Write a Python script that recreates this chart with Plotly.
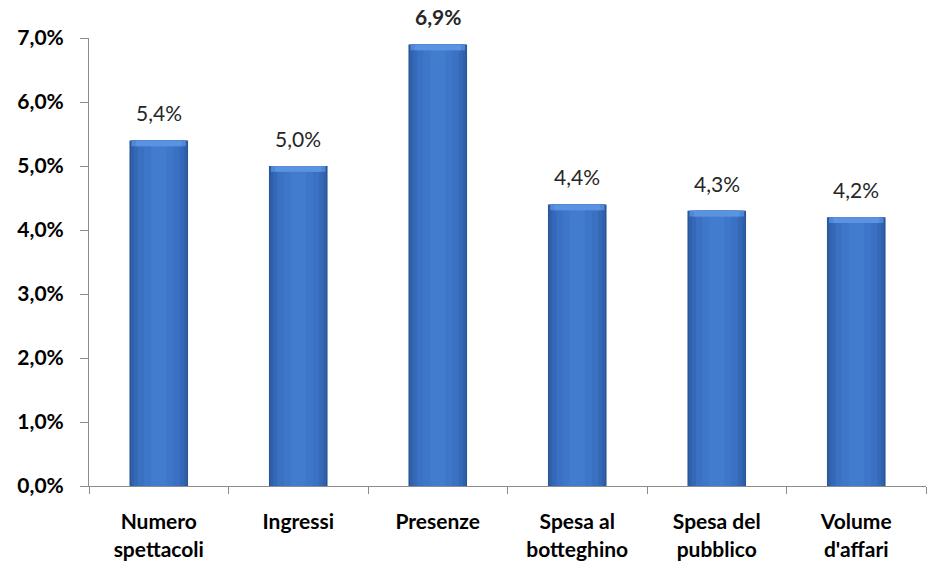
import plotly.graph_objects as go

categories = ["Numero<br>spettacoli", "Ingressi", "Presenze", "Spesa al<br>botteghino",
              "Spesa del<br>pubblico", "Volume<br>d'affari"]
values = [5.4, 5.0, 6.9, 4.4, 4.3, 4.2]
labels = ["5,4%", "5,0%", "<b>6,9%</b>", "4,4%", "4,3%", "4,2%"]
y_ticks = [0, 1, 2, 3, 4, 5, 6, 7]
y_tick_text = ["0,0%", "1,0%", "2,0%", "3,0%", "4,0%", "5,0%", "6,0%", "7,0%"]

FONT = "Lato, 'Open Sans', sans-serif"

fig = go.Figure()

# cylinder shading: stacked overlays, dark edges to lighter centre
shades = [
    (0.42, "#2a5597"),
    (0.40, "#2f60aa"),
    (0.36, "#3569b8"),
    (0.30, "#3a71c2"),
    (0.21, "#3e77c9"),
    (0.11, "#417ccd"),
]
for w, c in shades:
    fig.add_trace(go.Bar(
        x=categories, y=values, width=w,
        marker=dict(color=c, line=dict(width=0)),
        hoverinfo="skip", showlegend=False,
    ))

# bevelled highlight along the bar tops
bevel = 0.09
fig.add_trace(go.Bar(
    x=categories, y=[bevel] * len(values), base=[v - bevel for v in values],
    width=0.39, marker=dict(color="#4f88d8", line=dict(width=0)),
    hoverinfo="skip", showlegend=False,
))
fig.add_trace(go.Bar(
    x=categories, y=[bevel] * len(values), base=[v - bevel for v in values],
    width=0.33, marker=dict(color="#5b93e0", line=dict(width=0)),
    hoverinfo="skip", showlegend=False,
))

# value labels above each bar
for cat, v, lab in zip(categories, values, labels):
    fig.add_annotation(
        x=cat, y=v, text=lab, showarrow=False,
        xanchor="center", yanchor="bottom", yshift=13,
        font=dict(family=FONT, size=21, color="#262626"),
    )

fig.update_layout(
    width=941, height=577,
    margin=dict(l=89, r=15, t=38, b=91),
    paper_bgcolor="white", plot_bgcolor="white",
    barmode="overlay", bargap=0.58,
    font=dict(family=FONT, color="#000000"),
)
fig.update_xaxes(
    showline=True, linecolor="#8c8c8c", linewidth=1,
    ticks="outside", tickson="boundaries", ticklen=7, tickcolor="#8c8c8c",
    ticklabelstandoff=17,
    tickfont=dict(size=21, family=FONT, weight="bold"),
    showgrid=False, zeroline=False,
)
fig.update_yaxes(
    range=[0, 7], tickvals=y_ticks, ticktext=y_tick_text,
    showline=True, linecolor="#8c8c8c", linewidth=1,
    ticks="outside", ticklen=8, tickcolor="#8c8c8c",
    ticklabelstandoff=12,
    tickfont=dict(size=21, family=FONT, weight="bold"),
    showgrid=False, zeroline=False,
)

fig.write_html("out.html")
